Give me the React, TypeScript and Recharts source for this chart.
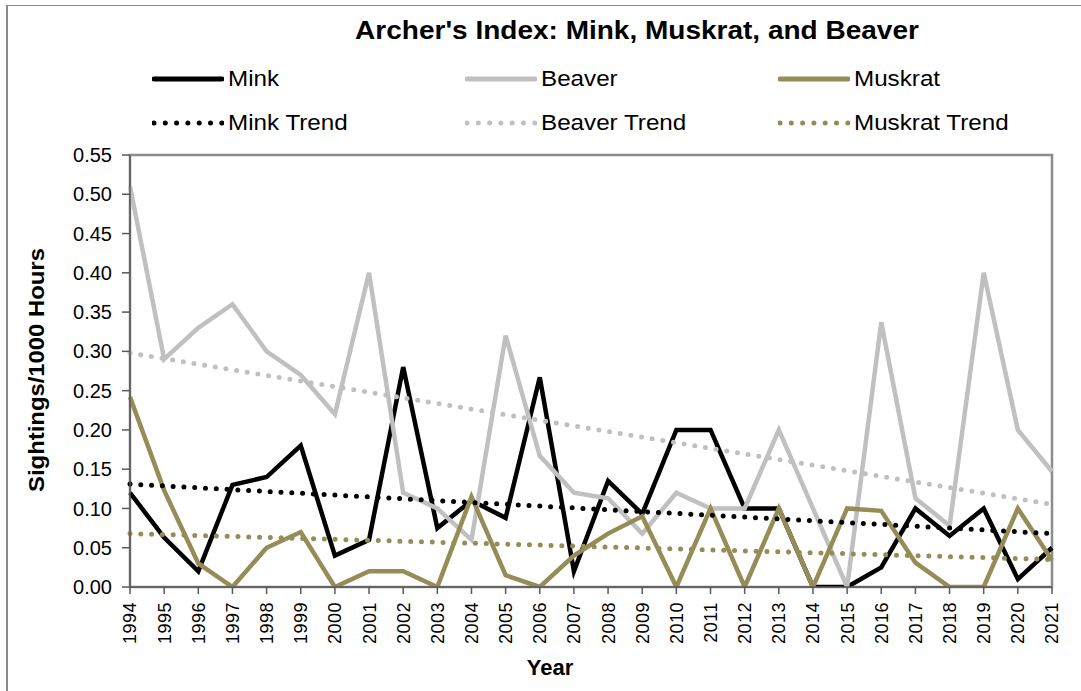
import React from 'react';
import { LineChart, Line, XAxis, YAxis, ReferenceArea } from 'recharts';

const years = ['1994','1995','1996','1997','1998','1999','2000','2001','2002','2003','2004','2005','2006','2007','2008','2009','2010','2011','2012','2013','2014','2015','2016','2017','2018','2019','2020','2021'];
const mink = [0.12,0.063,0.02,0.13,0.14,0.18,0.04,0.06,0.28,0.075,0.11,0.088,0.267,0.02,0.135,0.093,0.2,0.2,0.1,0.1,0,0,0.025,0.1,0.065,0.1,0.01,0.05];
const beaver = [0.51,0.29,0.33,0.36,0.3,0.27,0.22,0.4,0.12,0.1,0.06,0.32,0.167,0.12,0.113,0.068,0.12,0.1,0.1,0.2,0.1,0,0.337,0.113,0.078,0.4,0.2,0.147];
const muskrat = [0.242,0.123,0.03,0,0.05,0.07,0,0.02,0.02,0,0.115,0.015,0,0.04,0.068,0.09,0,0.1,0,0.1,0,0.1,0.097,0.031,0,0,0.1,0.034];
const minkTrendEnds = [0.131, 0.068];
const beaverTrendEnds = [0.298, 0.105];
const muskratTrendEnds = [0.068, 0.035];
const yTicks = [0, 0.05, 0.1, 0.15, 0.2, 0.25, 0.3, 0.35, 0.4, 0.45, 0.5, 0.55];

const MINK = '#000000';
const BEAVER = '#C0C0C0';
const MUSKRAT = '#968C58';
const FONT = '"Liberation Sans", Arial, sans-serif';

const last = years.length - 1;
const ends = (e: number[], i: number) => (i === 0 ? e[0] : i === last ? e[1] : null);
const data = years.map((y, i) => ({
  year: y,
  mink: mink[i],
  beaver: beaver[i],
  muskrat: muskrat[i],
  minkTrend: ends(minkTrendEnds, i),
  beaverTrend: ends(beaverTrendEnds, i),
  muskratTrend: ends(muskratTrendEnds, i),
}));

const legendItems = [
  { name: 'Mink', color: MINK, dotted: false, left: 152, top: 79 },
  { name: 'Beaver', color: BEAVER, dotted: false, left: 465, top: 79 },
  { name: 'Muskrat', color: MUSKRAT, dotted: false, left: 778, top: 79 },
  { name: 'Mink Trend', color: MINK, dotted: true, left: 152, top: 123 },
  { name: 'Beaver Trend', color: BEAVER, dotted: true, left: 465, top: 123 },
  { name: 'Muskrat Trend', color: MUSKRAT, dotted: true, left: 778, top: 123 },
];

const XTick = (props: any) => {
  const { x, y, payload } = props;
  return (
    <g transform={`translate(${x},${y})`}>
      <text transform="rotate(-90)" textAnchor="end" dy="0.36em" fontSize={18} letterSpacing={0.5} fontFamily={FONT} fill="#000">
        {payload.value}
      </text>
    </g>
  );
};

export default function App() {
  return (
    <div style={{ position: 'absolute', left: 0, top: 0, width: 1081, height: 691, background: '#fff', fontFamily: FONT }}>
      <div style={{ position: 'absolute', left: 6, top: 5, width: 1075, height: 686, borderLeft: '2px solid #8a8a8a', borderTop: '1px solid #8a8a8a' }} />
      <LineChart width={1081} height={691} data={data} margin={{ top: 155, right: 29, bottom: 44, left: 10 }}>
        <ReferenceArea x1="1994" x2="2021" y1={0} y2={0.55} fill="none" stroke="#8c8c8c" strokeWidth={2.5} ifOverflow="visible" />
        <XAxis
          dataKey="year"
          scale="point"
          padding={{ left: 0, right: 0 }}
          interval={0}
          height={60}
          tickSize={7}
          tickMargin={8}
          tick={<XTick />}
          stroke="#595959"
          strokeWidth={1.5}
          tickLine={{ stroke: '#595959' }}
        />
        <YAxis
          domain={[0, 0.55]}
          ticks={yTicks}
          width={120}
          tickSize={8}
          tickMargin={10}
          tickFormatter={(v: number) => v.toFixed(2)}
          tick={{ fontSize: 20, fill: '#000', fontFamily: FONT }}
          stroke="#595959"
          strokeWidth={1.5}
          interval={0}
          allowDataOverflow
        />
        <Line dataKey="mink" stroke={MINK} strokeWidth={4.5} dot={false} isAnimationActive={false} strokeLinejoin="miter" />
        <Line dataKey="beaver" stroke={BEAVER} strokeWidth={4.5} dot={false} isAnimationActive={false} strokeLinejoin="miter" />
        <Line dataKey="muskrat" stroke={MUSKRAT} strokeWidth={4.5} dot={false} isAnimationActive={false} strokeLinejoin="miter" />
        <Line dataKey="minkTrend" stroke={MINK} strokeWidth={5} strokeDasharray="0 10.8" strokeLinecap="round" connectNulls dot={false} isAnimationActive={false} />
        <Line dataKey="beaverTrend" stroke={BEAVER} strokeWidth={5} strokeDasharray="0 10.8" strokeLinecap="round" connectNulls dot={false} isAnimationActive={false} />
        <Line dataKey="muskratTrend" stroke={MUSKRAT} strokeWidth={5} strokeDasharray="0 10.8" strokeLinecap="round" connectNulls dot={false} isAnimationActive={false} />
      </LineChart>
      <div style={{ position: 'absolute', left: 637, top: 30, transform: 'translate(-50%, -50%) scaleX(1.077)', fontSize: 26, fontWeight: 'bold', color: '#000', whiteSpace: 'nowrap' }}>
        Archer's Index: Mink, Muskrat, and Beaver
      </div>
      {legendItems.map((it) => (
        <div key={it.name} style={{ position: 'absolute', left: it.left, top: it.top - 14, height: 28, display: 'flex', alignItems: 'center', whiteSpace: 'nowrap' }}>
          <svg width={72} height={10} style={{ display: 'block' }}>
            <line x1={2} y1={5} x2={70} y2={5} stroke={it.color} strokeWidth={5} strokeLinecap="round" strokeDasharray={it.dotted ? '0 11.3' : undefined} />
          </svg>
          <span style={{ marginLeft: 4, fontSize: 22, color: '#000', display: 'inline-block', transform: 'scaleX(1.1)', transformOrigin: 'left center' }}>{it.name}</span>
        </div>
      ))}
      <div style={{ position: 'absolute', left: 37, top: 370, transform: 'translate(-50%, -50%) rotate(-90deg) scaleX(1.084)', fontSize: 22, fontWeight: 'bold', whiteSpace: 'nowrap', color: '#000' }}>
        Sightings/1000 Hours
      </div>
      <div style={{ position: 'absolute', left: 550, top: 668, transform: 'translate(-50%, -50%)', fontSize: 22, fontWeight: 'bold', whiteSpace: 'nowrap', color: '#000' }}>
        Year
      </div>
    </div>
  );
}
